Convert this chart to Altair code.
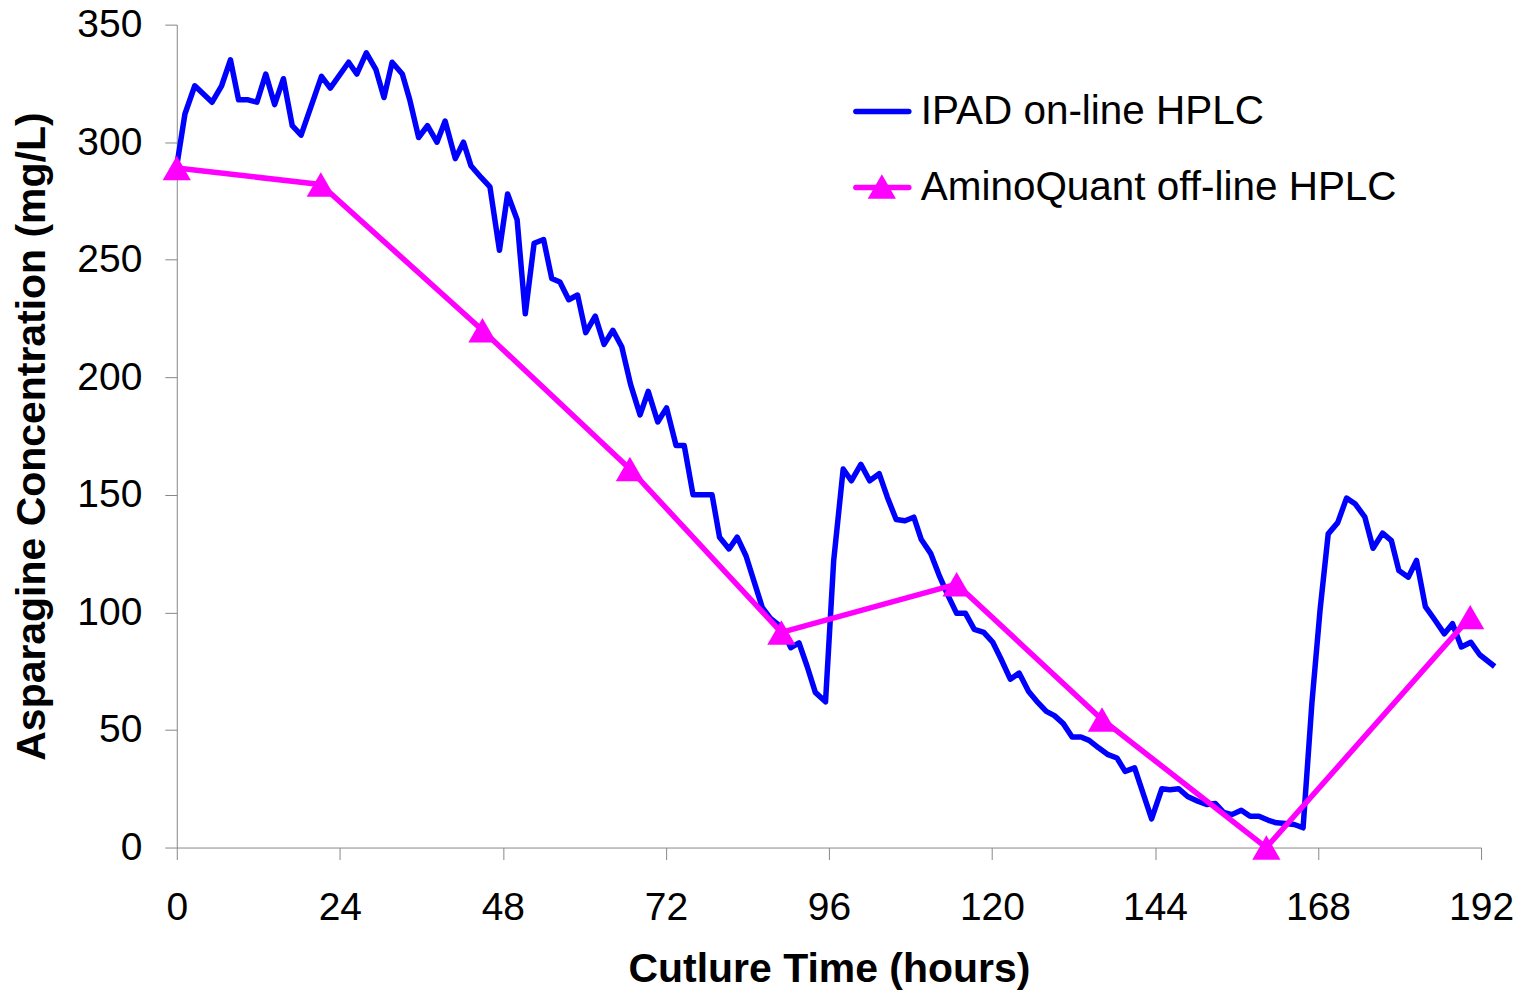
import altair as alt
import pandas as pd

# IPAD on-line HPLC (blue)
ipad_hours = [0, 1.2, 2.65, 5.2, 6.6, 7.9, 9.1, 10.5, 11.8, 13.1, 14.4, 15.7, 17.0, 18.3,
              21.3, 22.6, 25.3, 26.5, 27.9, 29.3, 30.5, 31.7, 33.2, 34.3, 35.6, 36.9, 38.3,
              39.5, 41.0, 42.2, 43.3, 44.8, 46.1, 47.5, 48.7, 50.1, 51.3, 52.6, 54.0, 55.2,
              56.4, 57.7, 59.0, 60.2, 61.6, 62.9, 64.2, 65.5, 66.8, 68.2, 69.4, 70.8, 72.1,
              73.5, 74.7, 76.0, 78.8, 79.9, 81.3, 82.5, 83.8, 85.0, 86.2, 87.4, 88.9, 90.4,
              91.6, 92.8, 94.0, 95.5, 96.7, 98.1, 99.3, 100.7, 102.0, 103.4, 104.6, 105.9,
              107.2, 108.5, 109.6, 111.0, 112.2, 113.4, 114.8, 116.1, 117.4, 118.8, 120.1,
              121.3, 122.7, 124.0, 125.4, 126.6, 128.0, 129.2, 130.5, 131.8, 133.1, 134.3,
              135.7, 137.1, 138.4, 139.6, 141.0, 143.5, 145.0, 146.2, 147.5, 148.8, 150.3,
              151.6, 152.9, 154.1, 155.3, 156.7, 158.0, 159.3, 160.7, 161.9, 163.2, 164.5,
              165.8, 167.1, 168.3, 169.5, 170.9, 172.2, 173.5, 174.9, 176.1, 177.5, 178.8,
              179.9, 181.3, 182.5, 183.8, 185.1, 186.6, 187.8, 189.1, 190.5, 191.8, 194.0]
ipad_values = [290, 312, 324, 317, 324, 335, 318, 318, 317, 329, 316, 327, 307, 303,
               328, 323, 334, 329, 338, 331, 319, 334, 329, 318, 302, 307, 300,
               309, 293, 300, 290, 285, 281, 254, 278, 267, 227, 257, 258.6, 242,
               240.5, 233, 235, 219, 226, 214, 220, 213, 197, 184, 194, 181, 187,
               171, 171, 150, 150, 132, 127, 132, 124, 113, 102, 97.5, 94, 85,
               87, 77, 66, 62, 122, 161, 156, 163, 156, 159, 149, 139.5,
               139, 140.5, 131, 125, 116, 108, 99.6, 99.6, 92.8, 91.5, 87.4,
               80.4, 71.6, 74.2, 66.4, 62.2, 57.9, 56.1, 52.7, 47.0, 47.0, 45.6,
               42.4, 39.5, 38.1, 32.4, 33.9, 12.2, 25, 24.6, 25, 21.7, 19.7,
               18.3, 18.7, 15.0, 14.0, 15.9, 13.3, 13.3, 11.6, 10.5, 10.2, 9.8,
               8.4, 61.5, 101, 133.4, 138.2, 148.6, 146.1, 140.5, 127.3, 133.7, 130.5,
               117.8, 115.0, 122.1, 102.5, 97.2, 90.9, 95.2, 85.3, 87.3, 82, 77]

# AminoQuant off-line HPLC (magenta)
aq_hours = [0, 21.2, 45.0, 66.7, 89.0, 114.8, 136.2, 160.4, 190.4]
aq_values = [289, 282, 220, 161, 91.5, 112, 54.5, 0, 98]

x_ticks = [0, 24, 48, 72, 96, 120, 144, 168, 192]
y_ticks = [0, 50, 100, 150, 200, 250, 300, 350]

legend_labels = ["IPAD on-line HPLC", "AminoQuant off-line HPLC"]
BLUE = "#0000FF"
MAGENTA = "#FF00FF"
FONT = "Liberation Sans"

W, H = 1306, 824

ipad_df = pd.DataFrame({"hours": ipad_hours, "value": ipad_values})
aq_df = pd.DataFrame({"hours": aq_hours, "value": aq_values})

x_enc = alt.X("hours:Q",
              scale=alt.Scale(domain=[0, 192], nice=False, zero=False),
              axis=alt.Axis(values=x_ticks, title="Cutlure Time (hours)", grid=False,
                            tickSize=12, labelPadding=29, labelFontSize=39, labelFlush=False,
                            titleFontSize=41, titleFontWeight="bold",
                            titleX=W / 2, titleY=122, titleBaseline="middle",
                            titleAlign="center"))
y_enc = alt.Y("value:Q",
              scale=alt.Scale(domain=[0, 350], nice=False),
              axis=alt.Axis(values=y_ticks, title="Asparagine Concentration (mg/L)", grid=False,
                            tickSize=12, labelPadding=23, labelFontSize=39, labelFlush=False,
                            titleFontSize=41, titleFontWeight="bold",
                            titleX=-144, titleY=H / 2, titleAngle=-90,
                            titleBaseline="middle", titleAlign="center"))

blue_line = alt.Chart(ipad_df).mark_line(
    color=BLUE, strokeWidth=5.5, strokeJoin="round", clip=False
).encode(x=x_enc, y=y_enc)

mag_line = alt.Chart(aq_df).mark_line(
    color=MAGENTA, strokeWidth=5.5, strokeJoin="round"
).encode(x="hours:Q", y="value:Q")

mag_pts = alt.Chart(aq_df).mark_point(
    shape="triangle-up", filled=True, color=MAGENTA, size=800, opacity=1
).encode(x="hours:Q", y="value:Q")

# manual legend
leg1_line = alt.Chart().mark_rule(color=BLUE, strokeWidth=5.5, strokeCap="round").encode(
    x=alt.value(680), x2=alt.value(733), y=alt.value(87))
leg2_line = alt.Chart().mark_rule(color=MAGENTA, strokeWidth=5.5, strokeCap="round").encode(
    x=alt.value(680), x2=alt.value(733), y=alt.value(163))
leg2_pt = alt.Chart().mark_point(shape="triangle-up", filled=True, color=MAGENTA,
                                 size=800, opacity=1).encode(
    x=alt.value(706), y=alt.value(162))
leg1_text = alt.Chart().mark_text(text=legend_labels[0], align="left", baseline="middle",
                                  font=FONT, fontSize=40.5, color="black").encode(
    x=alt.value(745), y=alt.value(88))
leg2_text = alt.Chart().mark_text(text=legend_labels[1], align="left", baseline="middle",
                                  font=FONT, fontSize=40.5, color="black").encode(
    x=alt.value(745), y=alt.value(164))

chart = alt.layer(
    blue_line, mag_line, mag_pts, leg1_line, leg2_line, leg2_pt, leg1_text, leg2_text
).properties(
    width=W, height=H,
    autosize=alt.AutoSizeParams(type="none"),
    padding={"left": 169, "top": 16, "right": 44, "bottom": 146},
    view=alt.ViewBackground(stroke="transparent", strokeWidth=0),
).configure_view(
    stroke="transparent", strokeWidth=0, strokeOpacity=0
).configure_axis(
    domainColor="black", domainWidth=1.5, tickColor="#444", tickWidth=1.5,
    labelFont=FONT, titleFont=FONT, labelColor="black", titleColor="black"
).configure(background="white")

chart.save("out.html", embed_options={"renderer": "svg", "actions": False})
